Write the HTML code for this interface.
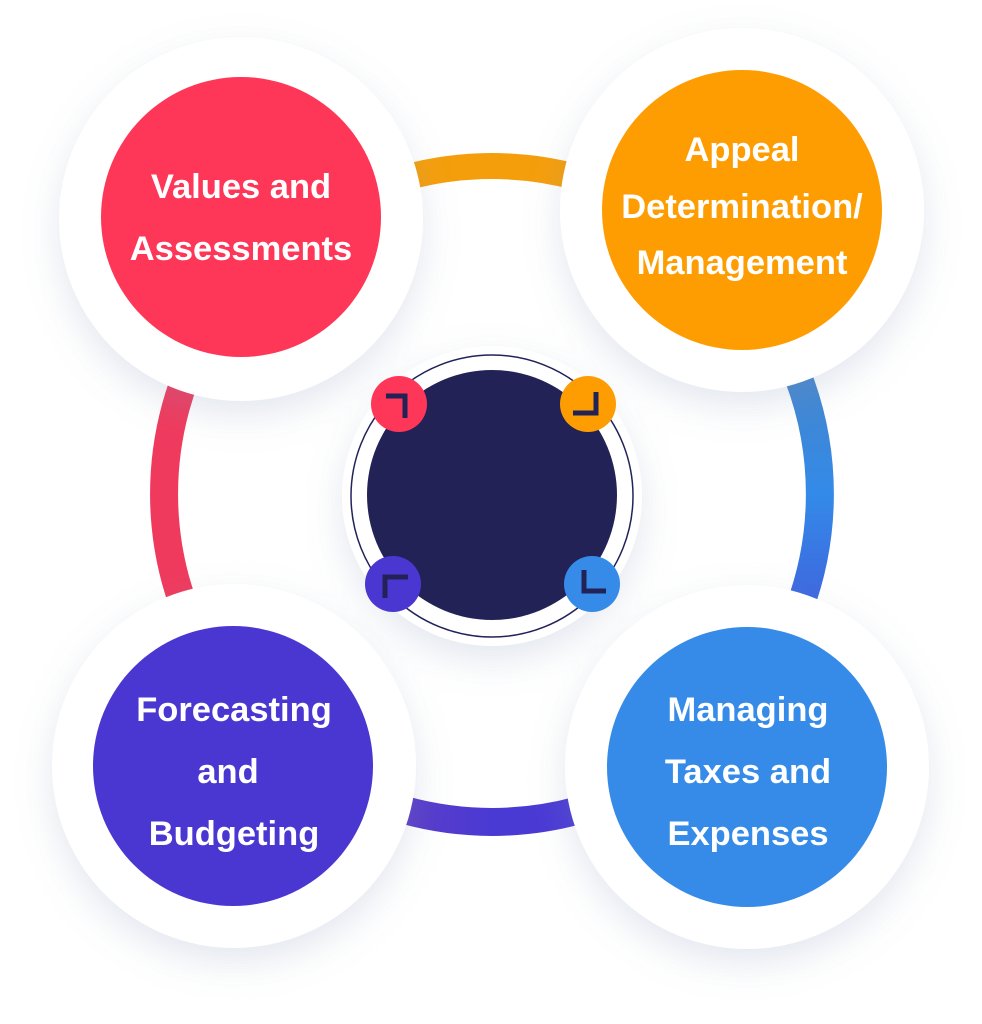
<!DOCTYPE html>
<html><head><style>
html,body{margin:0;padding:0;background:#fff;}
svg{display:block;}
text{font-family:"Liberation Sans",sans-serif;font-weight:bold;fill:#fff;font-size:34.5px;text-anchor:middle;}
</style></head><body>
<svg width="982" height="1024" viewBox="0 0 982 1024" xmlns="http://www.w3.org/2000/svg">
<defs>
<filter id="ds" x="-30%" y="-30%" width="160%" height="160%">
<feDropShadow dx="0" dy="14" stdDeviation="18" flood-color="#7f93b5" flood-opacity="0.22"/>
</filter>
<linearGradient id="gr" x1="0" y1="0" x2="0" y2="1">
<stop offset="0" stop-color="#5283b8"/><stop offset="0.5" stop-color="#338ae8"/><stop offset="1" stop-color="#4a45d6"/>
</linearGradient>
<linearGradient id="gb" x1="0" y1="0" x2="1" y2="0">
<stop offset="0" stop-color="#6a3dbd"/><stop offset="0.5" stop-color="#4a3ad4"/><stop offset="1" stop-color="#4a3ad4"/>
</linearGradient>
</defs>
<path d="M 208 658 A 328 328 0 0 1 208 330" fill="none" stroke="#ef3a5d" stroke-width="28"/>
<path d="M 328 210 A 328 328 0 0 1 656 210" fill="none" stroke="#f59e0b" stroke-width="26"/>
<path d="M 743 283 A 328 328 0 0 1 743 705" fill="none" stroke="url(#gr)" stroke-width="28"/>
<path d="M 656 778 A 328 328 0 0 1 328 778" fill="none" stroke="url(#gb)" stroke-width="28"/>
<g filter="url(#ds)" fill="#fff">
<circle cx="241" cy="219" r="182"/>
<circle cx="742" cy="210" r="182"/>
<circle cx="234" cy="766" r="182"/>
<circle cx="747" cy="767" r="182"/>
<circle cx="492" cy="496" r="150"/>
</g>
<circle cx="241" cy="217" r="140" fill="#fe3658"/>
<circle cx="742" cy="210" r="140" fill="#fe9d02"/>
<circle cx="233" cy="766" r="140" fill="#4a37d2"/>
<circle cx="747" cy="767" r="140" fill="#358be7"/>
<text x="241" y="198">Values and</text>
<text x="241" y="260">Assessments</text>
<text x="742" y="161">Appeal</text>
<text x="742" y="218">Determination/</text>
<text x="742" y="274">Management</text>
<text x="234" y="721">Forecasting</text>
<text x="228" y="783">and</text>
<text x="234" y="845">Budgeting</text>
<text x="748" y="721">Managing</text>
<text x="748" y="783">Taxes and</text>
<text x="748" y="845">Expenses</text>
<circle cx="492" cy="496" r="141" fill="#fff" stroke="#22225a" stroke-width="1.5"/>
<circle cx="492" cy="495" r="125" fill="#222257"/>
<circle cx="399" cy="404" r="28" fill="#fe3658"/>
<circle cx="588" cy="404" r="28" fill="#fe9d02"/>
<circle cx="393" cy="584" r="28" fill="#4a37d2"/>
<circle cx="592" cy="584" r="28" fill="#358be7"/>
<g fill="none" stroke="#222257" stroke-width="5">
<path d="M 386 396 L 405 396 L 405 418"/>
<path d="M 596 392 L 596 413 L 573 413"/>
<path d="M 385 598 L 385 577 L 408 577"/>
<path d="M 584 570 L 584 591 L 606 591"/>
</g>
</svg>
</body></html>
